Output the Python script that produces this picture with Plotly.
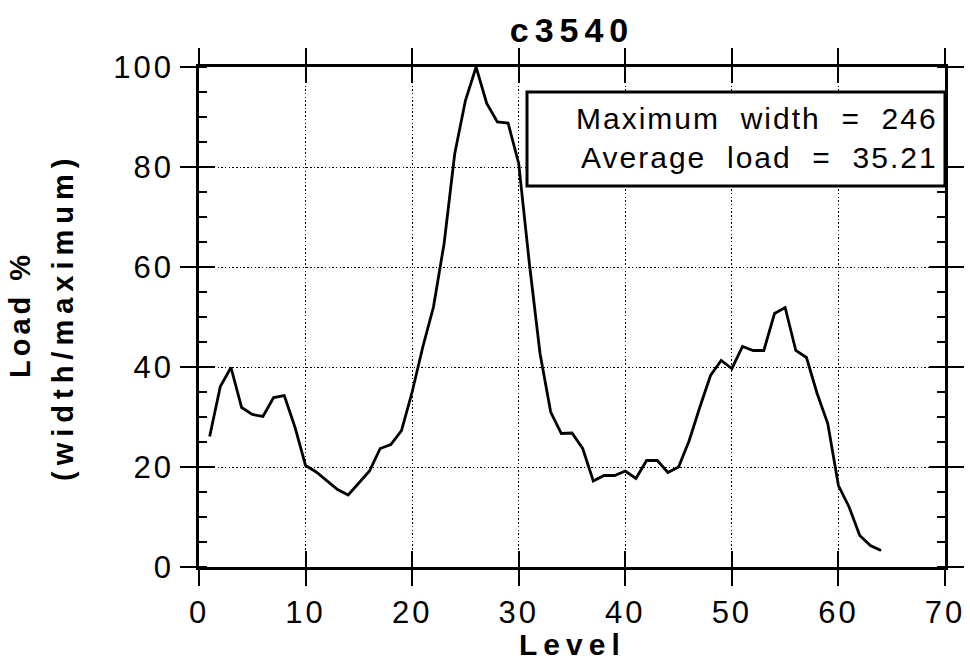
import plotly.graph_objects as go

# Load profile per level (percent of the widest level)
levels = list(range(1, 65))
load_pct = [
    26.1, 36.1, 39.9, 31.9, 30.5, 30.1, 33.9, 34.3, 28.0, 20.3,
    19.0, 17.3, 15.5, 14.4, 16.7, 19.2, 23.7, 24.5, 27.3, 35.0,
    44.0, 52.0, 64.7, 82.7, 93.3, 100.0, 92.7, 89.0, 88.8, 80.7,
    60.7, 42.7, 31.0, 26.7, 26.8, 23.7, 17.2, 18.3, 18.3, 19.2,
    17.7, 21.3, 21.3, 18.9, 20.0, 25.3, 32.0, 38.3, 41.3, 39.7,
    44.1, 43.3, 43.3, 50.7, 51.9, 43.3, 41.9, 34.7, 28.7, 16.3,
    12.0, 6.3, 4.3, 3.3,
]
x_ticks = [0, 10, 20, 30, 40, 50, 60, 70]
y_ticks = [0, 20, 40, 60, 80, 100]
circuit = "c3540"
max_width = 246
avg_load = 35.21

FONT = "Liberation Sans, Arial, Helvetica, sans-serif"
NB = "\u00a0"


def spaced(s, px):
    return f"<span style='letter-spacing:{px}px'>{s}</span>"


fig = go.Figure()
fig.add_trace(go.Scatter(
    x=levels, y=load_pct, mode="lines",
    line=dict(color="black", width=2.8),
    showlegend=False, hoverinfo="skip",
))
# empty trace that carries the inner-tick axes
fig.add_trace(go.Scatter(
    x=[None], y=[None], xaxis="x2", yaxis="y2",
    showlegend=False, hoverinfo="skip",
))

common = dict(showline=True, linecolor="black", linewidth=2.8,
              tickcolor="black", tickwidth=1.8, ticklen=16, zeroline=False,
              automargin=False)

fig.update_layout(
    width=970, height=662,
    margin=dict(l=199, r=25, t=67, b=95),
    paper_bgcolor="white", plot_bgcolor="white",
    font=dict(family=FONT, color="black"),
    title=dict(
        text=spaced(circuit, 6), x=0.5, xref="paper", xanchor="center",
        y=1 - 30 / 662, yanchor="middle",
        font=dict(size=34, weight="bold", family=FONT),
        automargin=False,
    ),
    xaxis=dict(
        range=[0, 70], tickvals=x_ticks,
        ticktext=[spaced(str(v), 3) for v in x_ticks],
        ticks="outside", mirror="ticks",
        tickfont=dict(size=31, family=FONT),
        showgrid=True, gridcolor="black", gridwidth=1, griddash="1.5px,2.2px",
        **common,
    ),
    yaxis=dict(
        range=[0, 100], tickvals=y_ticks,
        ticktext=[spaced(str(v), 3) for v in y_ticks],
        ticks="outside", mirror="ticks",
        tickfont=dict(size=31, family=FONT),
        showgrid=True, gridcolor="black", gridwidth=1, griddash="1.5px,2.2px",
        minor=dict(dtick=5, ticks="inside", ticklen=8, tickwidth=1.5,
                   tickcolor="black", showgrid=False),
        **common,
    ),
    xaxis2=dict(
        range=[0, 70], tickvals=x_ticks, overlaying="x", anchor="y2",
        ticks="inside", mirror="ticks", showticklabels=False, showgrid=False,
        **common,
    ),
    yaxis2=dict(
        range=[0, 100], tickvals=y_ticks, overlaying="y", anchor="x2",
        ticks="inside", mirror="ticks", showticklabels=False, showgrid=False,
        **common,
    ),
)

# statistics box
fig.add_shape(
    type="rect", xref="paper", yref="paper",
    x0=(527 - 199) / 746, x1=1.0, y0=(567 - 186) / 500, y1=(567 - 92) / 500,
    line=dict(color="black", width=3), fillcolor="white", layer="above",
)
line1 = f"Maximum{NB*2}width{NB*2}={NB*2}{max_width}"
line2 = f"Average{NB*2}load{NB*2}={NB*2}{avg_load:.2f}"
fig.add_annotation(
    xref="paper", yref="paper", x=(940 - 199) / 746, y=(567 - 138) / 500,
    xanchor="right", yanchor="middle", align="right", showarrow=False,
    text=spaced(line1, 2) + "<br>" + spaced(line2, 2),
    font=dict(size=30, family=FONT, color="black"),
)

# axis titles
fig.add_annotation(
    xref="paper", yref="paper", x=0.5, y=(567 - 644) / 500,
    xanchor="center", yanchor="middle", showarrow=False,
    text=spaced("Level", 6),
    font=dict(size=30, family=FONT, weight="bold"),
)
fig.add_annotation(
    xref="paper", yref="paper", x=(20 - 199) / 746, y=(567 - 315) / 500,
    xanchor="center", yanchor="middle", showarrow=False, textangle=-90,
    text=spaced("Load" + NB + "%", 4),
    font=dict(size=29, family=FONT, weight="bold"),
)
fig.add_annotation(
    xref="paper", yref="paper", x=(63 - 199) / 746, y=(567 - 317) / 500,
    xanchor="center", yanchor="middle", showarrow=False, textangle=-90,
    text=spaced("(width/maximum)", 6),
    font=dict(size=29, family=FONT, weight="bold"),
)

fig.write_html("out.html")
